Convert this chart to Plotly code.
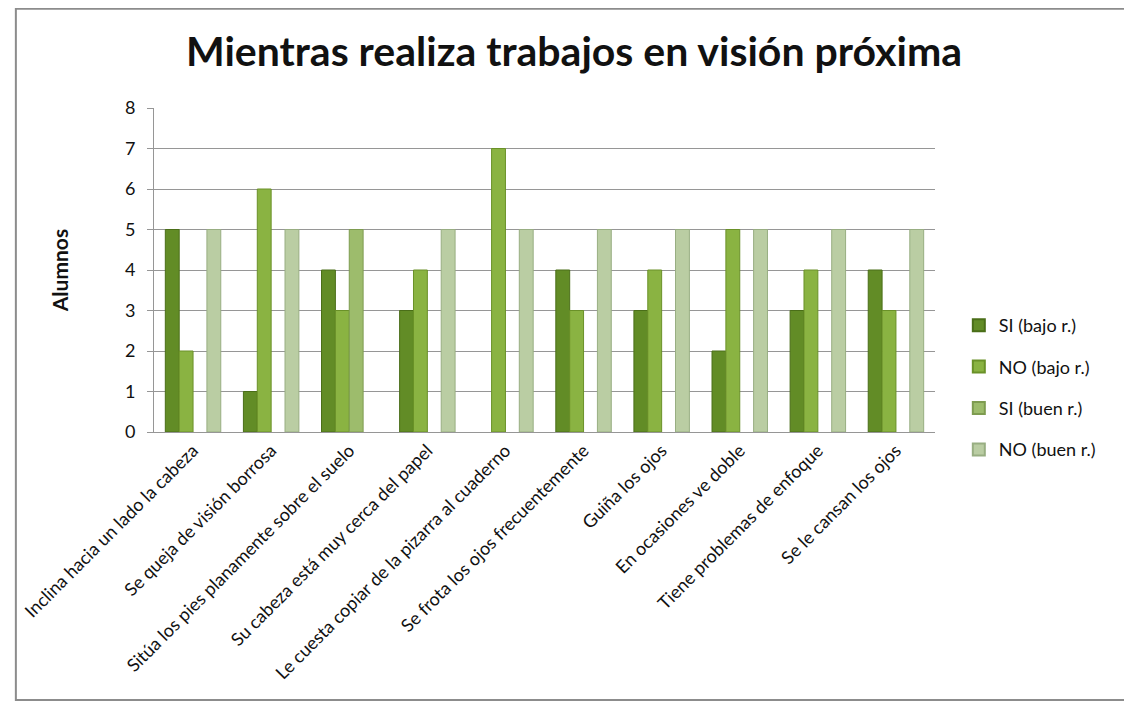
import plotly.graph_objects as go

categorias = [
    "Inclina hacia un lado la cabeza",
    "Se queja de visión borrosa",
    "Sitúa los pies planamente sobre el suelo",
    "Su cabeza está muy cerca del papel",
    "Le cuesta copiar de la pizarra al cuaderno",
    "Se frota los ojos frecuentemente",
    "Guiña los ojos",
    "En ocasiones ve doble",
    "Tiene problemas de enfoque",
    "Se le cansan los ojos",
]
si_bajo = [5, 1, 4, 3, 0, 4, 3, 2, 3, 4]
no_bajo = [2, 6, 3, 4, 7, 3, 4, 5, 4, 3]
si_buen = [0, 0, 5, 0, 0, 0, 0, 0, 0, 0]
no_buen = [5, 5, 0, 5, 5, 5, 5, 5, 5, 5]

series = [
    ("SI (bajo r.)", si_bajo, "#628C26", "#4A6E18"),
    ("NO (bajo r.)", no_bajo, "#8AB342", "#6A9128"),
    ("SI (buen r.)", si_buen, "#9DBC6C", "#7E9C50"),
    ("NO (buen r.)", no_buen, "#BACDA3", "#98AE82"),
]

W, H = 1132, 704
OFF = 8  # page body margin
L, R, T, B = 148 - OFF, 935 - OFF, 108 - OFF, 432 - OFF

fig = go.Figure()
for name, vals, col, edge in series:
    # hide the zero-height bars so no stray line is drawn on the axis
    shown = [v if v > 0 else None for v in vals]
    fig.add_trace(go.Bar(
        x=categorias, y=shown, name=name, legendgroup=name,
        marker=dict(color=col, line=dict(width=1, color=edge)),
    ))

pw, ph = R - L, B - T
def px_x(p):
    return (p - L) / pw
def px_y(p):
    return (B - p) / ph

fig.update_layout(
    width=W, height=H,
    margin=dict(l=L, r=W - R, t=T, b=H - B),
    paper_bgcolor="white", plot_bgcolor="white",
    font=dict(family="Lato, 'Open Sans', sans-serif", color="#111111"),
    barmode="group", bargap=0.29, bargroupgap=0,
    title=dict(text="Mientras realiza trabajos en visión próxima",
               x=(574 - OFF) / W, xanchor="center", y=1 - (52 - OFF) / H, yanchor="middle",
               font=dict(size=41, family="Lato, sans-serif", weight="bold", color="#111111")),
    yaxis=dict(range=[0, 8], dtick=1, showgrid=True, gridcolor="#969696", gridwidth=1,
               showline=True, linecolor="#969696", ticks="outside", ticklen=6,
               tickcolor="#969696", tickfont=dict(size=18), zeroline=False,
               ticklabelstandoff=8,
               title=dict(text="Alumnos", font=dict(size=21, weight="bold"), standoff=50)),
    xaxis=dict(showline=True, linecolor="#969696", tickangle=-45,
               tickfont=dict(size=18), ticks=""),
    legend=dict(x=px_x(959 - OFF), y=px_y(307 - OFF), xanchor="left", yanchor="top",
                font=dict(size=18), itemsizing="constant", tracegroupgap=15,
                traceorder="grouped"),
    shapes=[dict(type="rect", xref="paper", yref="paper",
                 x0=px_x(0.8), x1=px_x(1128 - OFF), y0=px_y(700 - OFF), y1=px_y(0.8),
                 line=dict(color="#8c8c8c", width=2), layer="below")],
)

fig.write_html("out.html")
